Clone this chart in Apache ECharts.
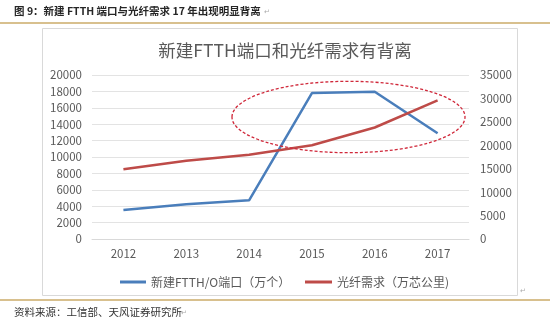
<!DOCTYPE html>
<html>
<head>
<meta charset="utf-8">
<script src="https://cdn.jsdelivr.net/npm/echarts@6/dist/echarts.min.js"></script>
<style>
html,body{margin:0;padding:0;background:#fff;}
#c{width:550px;height:323px;}
</style>
</head>
<body>
<div id="c"></div>
<script>
var categories = ['2012', '2013', '2014', '2015', '2016', '2017'];
var ftthPorts = [3550, 4250, 4720, 17800, 17950, 12900];
var fiberDemand = [14900, 16700, 18000, 20000, 23800, 29600];
var seriesNames = ['新建FTTH/O端口（万个）', '光纤需求（万芯公里)'];
var chartTitle = '新建FTTH端口和光纤需求有背离';
var headerText = '图 9：新建 FTTH 端口与光纤需求 17 年出现明显背离';
var sourceText = '资料来源：工信部、天风证券研究所';

var FONT = '"Microsoft YaHei","Noto Sans CJK SC",sans-serif';
var chart = echarts.init(document.getElementById('c'), null, {renderer: 'canvas'});
var plain = function (v) { return String(v); };
var legendText = {fontSize: 12, color: '#595959', fontFamily: FONT};
chart.setOption({
  backgroundColor: '#fff',
  animation: false,
  textStyle: {fontFamily: FONT},
  title: {
    text: chartTitle,
    left: 280, top: 37, textAlign: 'center',
    textStyle: {fontSize: 17.5, fontWeight: 'normal', color: '#595959', fontFamily: FONT}
  },
  legend: [
    {data: [seriesNames[0]], top: 271, left: 115,
     itemWidth: 26, itemHeight: 3, icon: 'rect', textStyle: legendText},
    {data: [seriesNames[1]], top: 271, left: 300,
     itemWidth: 27, itemHeight: 3, icon: 'rect', textStyle: legendText}
  ],
  grid: {left: 92, right: 81, top: 75, bottom: 84},
  xAxis: {
    type: 'category', data: categories, boundaryGap: true,
    axisLine: {lineStyle: {color: '#d9d9d9'}},
    axisTick: {show: false},
    axisLabel: {fontSize: 11.5, color: '#595959', margin: 9, fontFamily: FONT}
  },
  yAxis: [
    {type: 'value', min: 0, max: 20000, interval: 2000,
     axisLine: {show: false}, axisTick: {show: false},
     axisLabel: {fontSize: 11.5, color: '#595959', margin: 10, fontFamily: FONT, formatter: plain},
     splitLine: {lineStyle: {color: '#e3e3e3'}}},
    {type: 'value', min: 0, max: 35000, interval: 5000,
     axisLine: {show: false}, axisTick: {show: false},
     axisLabel: {fontSize: 11.5, color: '#595959', margin: 11, fontFamily: FONT, formatter: plain},
     splitLine: {show: false}}
  ],
  series: [
    {name: seriesNames[0], type: 'line', data: ftthPorts, yAxisIndex: 0,
     symbol: 'none', lineStyle: {color: '#4a7ebb', width: 2.5}, itemStyle: {color: '#4a7ebb'}},
    {name: seriesNames[1], type: 'line', data: fiberDemand, yAxisIndex: 1,
     symbol: 'none', lineStyle: {color: '#be4b48', width: 2.5}, itemStyle: {color: '#be4b48'}}
  ],
  graphic: [
    {type: 'text', left: 14, top: 6, style: {text: headerText, fill: '#262626', font: 'bold 10.5px ' + FONT}},
    {type: 'text', left: 264, top: 9, style: {text: '↵', fontSize: 7, fill: '#aaa'}},
    {type: 'rect', shape: {x: 0, y: 22, width: 550, height: 2}, style: {fill: '#d8c08e'}, z: 1},
    {type: 'rect', shape: {x: 42.5, y: 28.5, width: 475, height: 267}, style: {fill: 'none', stroke: '#d9d9d9', lineWidth: 1}, z: -1},
    {type: 'rect', shape: {x: 0, y: 299, width: 550, height: 2}, style: {fill: '#d8c08e'}, z: 1},
    {type: 'text', left: 520, top: 288, style: {text: '↵', fontSize: 7, fill: '#aaa'}},
    {type: 'text', left: 14, top: 307, style: {text: sourceText, fill: '#333', font: '10.5px ' + FONT}},
    {type: 'text', left: 181, top: 310, style: {text: '↵', fontSize: 7, fill: '#aaa'}},
    {type: 'ellipse', shape: {cx: 348.5, cy: 117, rx: 116.5, ry: 35.7},
     style: {fill: 'none', stroke: '#d0283a', lineWidth: 1.3, lineDash: [3, 2]}, z: 10}
  ]
});
</script>
</body>
</html>
